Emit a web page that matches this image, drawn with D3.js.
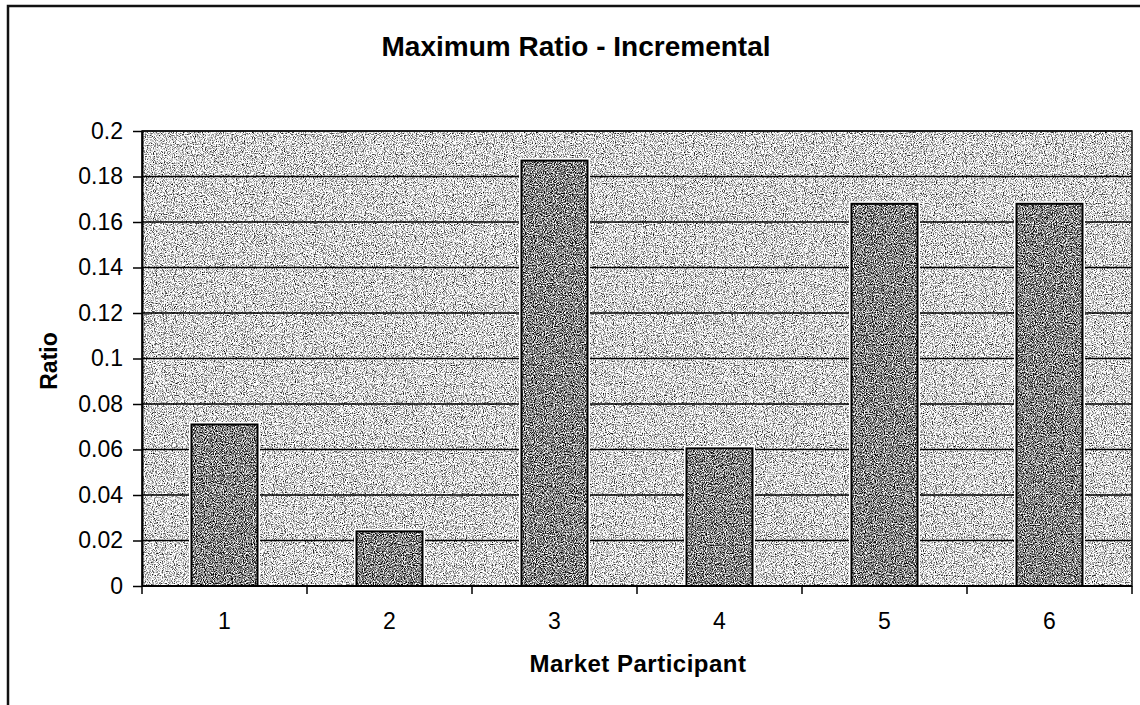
<!DOCTYPE html>
<html>
<head>
<meta charset="utf-8">
<script src="https://cdnjs.cloudflare.com/ajax/libs/d3/7.8.5/d3.min.js"></script>
<style>
  html, body { margin: 0; padding: 0; background: #fff; }
  svg { display: block; font-family: "Liberation Sans", Arial, sans-serif; }
</style>
</head>
<body>
<svg id="chart" width="1140" height="705"></svg>
<script>
// ---- data ----
const categories = ["1", "2", "3", "4", "5", "6"];
const ratioValues = [0.071, 0.024, 0.187, 0.0605, 0.168, 0.168];
const yTickValues = [0, 0.02, 0.04, 0.06, 0.08, 0.1, 0.12, 0.14, 0.16, 0.18, 0.2];
const yTickLabels = ["0", "0.02", "0.04", "0.06", "0.08", "0.1", "0.12", "0.14", "0.16", "0.18", "0.2"];
const titleText = "Maximum Ratio - Incremental";
const xTitle = "Market Participant";
const yTitle = "Ratio";

// ---- layout ----
const plot = { left: 142, right: 1132, top: 131, bottom: 586 };

const svg = d3.select("#chart");
const defs = svg.append("defs");

function grain(id, intercept, seed) {
  const f = defs.append("filter").attr("id", id)
    .attr("x", 0).attr("y", 0).attr("width", "100%").attr("height", "100%")
    .attr("color-interpolation-filters", "sRGB");
  f.append("feTurbulence").attr("type", "fractalNoise").attr("baseFrequency", 0.9)
    .attr("numOctaves", 2).attr("seed", seed).attr("result", "t");
  f.append("feColorMatrix").attr("in", "t").attr("type", "matrix")
    .attr("values", "1 0 0 0 0  1 0 0 0 0  1 0 0 0 0  0 0 0 0 1").attr("result", "g");
  const ct = f.append("feComponentTransfer").attr("in", "g").attr("result", "c");
  ["feFuncR", "feFuncG", "feFuncB"].forEach(fn =>
    ct.append(fn).attr("type", "linear").attr("slope", 2.6).attr("intercept", intercept));
  f.append("feComposite").attr("in", "c").attr("in2", "SourceGraphic").attr("operator", "in");
}
grain("bgGrain", -0.45, 4);
grain("barGrain", -0.78, 9);

const x = d3.scaleBand()
  .domain(categories)
  .range([plot.left, plot.right])
  .paddingInner(0.6)
  .paddingOuter(0.3);

const y = d3.scaleLinear()
  .domain([0, 0.2])
  .range([plot.bottom, plot.top]);

// outer chart border (left and top visible)
svg.append("path")
  .attr("d", `M8,705 L8,6 L1140,6`)
  .attr("fill", "none").attr("stroke", "#111").attr("stroke-width", 2.5);

// plot background
svg.append("rect")
  .attr("x", plot.left).attr("y", plot.top)
  .attr("width", plot.right - plot.left).attr("height", plot.bottom - plot.top)
  .attr("fill", "#b5b5b5")
  .attr("filter", "url(#bgGrain)");

// gridlines
svg.append("g").selectAll("line")
  .data(yTickValues.filter(v => v > 0))
  .join("line")
  .attr("x1", plot.left).attr("x2", plot.right)
  .attr("y1", d => y(d)).attr("y2", d => y(d))
  .attr("stroke", "#000").attr("stroke-width", 1.5);

// plot border
svg.append("rect")
  .attr("x", plot.left).attr("y", plot.top)
  .attr("width", plot.right - plot.left).attr("height", plot.bottom - plot.top)
  .attr("fill", "none").attr("stroke", "#111").attr("stroke-width", 1.5);

// bars
const barData = categories.map((c, i) => ({ c, v: ratioValues[i] }));
const bars = svg.append("g");
bars.selectAll("rect.halo")
  .data(barData).join("rect").attr("class", "halo")
  .attr("x", d => x(d.c)).attr("y", d => y(d.v))
  .attr("width", x.bandwidth()).attr("height", d => y(0) - y(d.v))
  .attr("fill", "none").attr("stroke", "#fff").attr("stroke-width", 5);
bars.selectAll("rect.fill")
  .data(barData).join("rect").attr("class", "fill")
  .attr("x", d => x(d.c)).attr("y", d => y(d.v))
  .attr("width", x.bandwidth()).attr("height", d => y(0) - y(d.v))
  .attr("fill", "#808080")
  .attr("filter", "url(#barGrain)");
bars.selectAll("rect.edge")
  .data(barData).join("rect").attr("class", "edge")
  .attr("x", d => x(d.c)).attr("y", d => y(d.v))
  .attr("width", x.bandwidth()).attr("height", d => y(0) - y(d.v))
  .attr("fill", "none").attr("stroke", "#000").attr("stroke-width", 2);

// y axis
const yAxis = d3.axisLeft(y)
  .tickValues(yTickValues)
  .tickFormat((d, i) => yTickLabels[i])
  .tickSizeInner(9).tickSizeOuter(0).tickPadding(10);
const gy = svg.append("g").attr("transform", `translate(${plot.left},0)`).call(yAxis);
gy.attr("font-size", null).attr("font-family", null);
gy.select(".domain").attr("stroke", "#000").attr("stroke-width", 2);
gy.selectAll(".tick line").attr("stroke", "#000").attr("stroke-width", 1.5);
gy.selectAll(".tick text")
  .style("font-size", "23px").attr("fill", "#000")
  .style("font-family", "'Liberation Sans', Arial, sans-serif");

// x axis: ticks at category boundaries, labels centered
const xBoundary = d3.scaleLinear().domain([0, categories.length]).range([plot.left, plot.right]);
const gx = svg.append("g");
gx.append("line")
  .attr("x1", plot.left).attr("x2", plot.right)
  .attr("y1", plot.bottom).attr("y2", plot.bottom)
  .attr("stroke", "#000").attr("stroke-width", 2);
gx.selectAll("line.tick")
  .data(d3.range(categories.length + 1)).join("line").attr("class", "tick")
  .attr("x1", d => xBoundary(d)).attr("x2", d => xBoundary(d))
  .attr("y1", plot.bottom).attr("y2", plot.bottom + 8)
  .attr("stroke", "#000").attr("stroke-width", 1.5);
gx.selectAll("text")
  .data(categories).join("text")
  .attr("x", d => x(d) + x.bandwidth() / 2)
  .attr("y", 629)
  .attr("text-anchor", "middle")
  .style("font-size", "23px").attr("fill", "#000")
  .text(d => d);

// title
svg.append("text")
  .attr("x", 576).attr("y", 56)
  .attr("text-anchor", "middle")
  .style("font-size", "28px").attr("font-weight", "bold").attr("fill", "#000")
  .text(titleText);

// axis titles
svg.append("text")
  .attr("x", 638).attr("y", 672)
  .attr("text-anchor", "middle")
  .style("font-size", "24px").attr("font-weight", "bold").attr("fill", "#000")
  .attr("letter-spacing", 0.5)
  .text(xTitle);

svg.append("text")
  .attr("transform", "translate(57,361) rotate(-90)")
  .attr("text-anchor", "middle")
  .style("font-size", "23px").attr("font-weight", "bold").attr("fill", "#000")
  .text(yTitle);
</script>
</body>
</html>
